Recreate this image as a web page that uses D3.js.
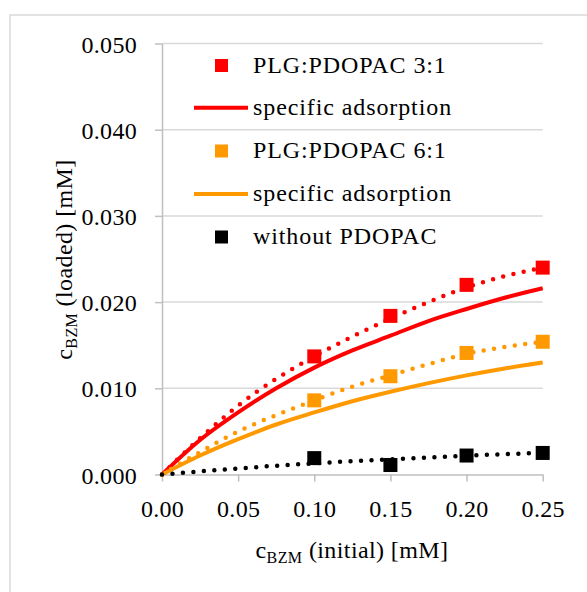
<!DOCTYPE html>
<html>
<head>
<meta charset="utf-8">
<script src="https://cdn.jsdelivr.net/npm/d3@7"></script>
<style>
  html, body { margin: 0; padding: 0; background: #fff; }
  svg { display: block; }
  svg text, svg tspan { font-family: 'Liberation Serif', 'Times New Roman', serif !important; fill: #000; }
</style>
</head>
<body>
<svg id="chart" width="587" height="592" font-family="Liberation Serif"></svg>
<script>
// ---- data ----
const xTickValues = [0.00, 0.05, 0.10, 0.15, 0.20, 0.25];
const yTickValues = [0.000, 0.010, 0.020, 0.030, 0.040, 0.050];

const xInitial = [0.10, 0.15, 0.20, 0.25];
const plg31 = [0.0137, 0.0184, 0.0220, 0.0240];
const plg61 = [0.0086, 0.0114, 0.0141, 0.0154];
const withoutPdopac = [0.0019, 0.0011, 0.0022, 0.0025];

const xCurve = [0, 0.025, 0.05, 0.075, 0.10, 0.125, 0.15, 0.175, 0.20, 0.225, 0.25];
const specific31 = [0, 0.0040, 0.0072, 0.0100, 0.0124, 0.0144, 0.0161, 0.0178, 0.0192, 0.0205, 0.0216];
const specific61 = [0, 0.0022, 0.0041, 0.0058, 0.0072, 0.0085, 0.0096, 0.0106, 0.0115, 0.0123, 0.0130];
const trend31 = [0, 0.0042, 0.0080, 0.0111, 0.0137, 0.0160, 0.0181, 0.0200, 0.0217, 0.0230, 0.0240];
const trend61 = [0, 0.0026, 0.0050, 0.0069, 0.0086, 0.0102, 0.0115, 0.0128, 0.0140, 0.0148, 0.0154];
const trendWithout = [0, 0.00036, 0.0007, 0.00102, 0.0013, 0.00155, 0.00177, 0.00198, 0.00218, 0.00236, 0.00252];

const legendLabels = ["PLG:PDOPAC 3:1", "specific adsorption", "PLG:PDOPAC 6:1", "specific adsorption", "without PDOPAC"];

// ---- styles ----
const FONT = "'Liberation Serif', 'Times New Roman', serif";
const RED = "#ff0000", ORANGE = "#ff9900", BLACK = "#000000";
const GRID = "#d9d9d9", AXIS = "#bfbfbf";

const svg = d3.select("#chart");

// outer chart border
svg.append("rect")
  .attr("x", 10).attr("y", 15)
  .attr("width", 600).attr("height", 600)
  .attr("fill", "none").attr("stroke", GRID).attr("stroke-width", 1.5);

const x = d3.scaleLinear().domain([0, 0.25]).range([162, 542.7]);
const y = d3.scaleLinear().domain([0, 0.05]).range([474.5, 43.5]);

// gridlines
svg.append("g")
  .selectAll("line")
  .data(yTickValues.filter(v => v > 0))
  .join("line")
  .attr("x1", x(0)).attr("x2", x(0.25))
  .attr("y1", d => y(d)).attr("y2", d => y(d))
  .attr("stroke", GRID).attr("stroke-width", 1.5);

// axes
const xAxis = svg.append("g")
  .attr("transform", `translate(0,${y(0)})`)
  .call(d3.axisBottom(x).tickValues(xTickValues).tickFormat(d3.format(".2f")).tickSize(7).tickSizeOuter(0));
const yAxis = svg.append("g")
  .attr("transform", `translate(${x(0)},0)`)
  .call(d3.axisLeft(y).tickValues(yTickValues).tickFormat(d3.format(".3f")).tickSize(7).tickSizeOuter(0));

[xAxis, yAxis].forEach(g => {
  g.attr("font-family", FONT).attr("font-size", 24);
  g.select(".domain").attr("stroke", AXIS).attr("stroke-width", 1.5);
  g.selectAll(".tick line").attr("stroke", AXIS).attr("stroke-width", 1.5);
  g.selectAll(".tick text")
    .style("font-family", FONT)
    .style("font-size", "24px")
    .style("letter-spacing", "0.3px")
    .attr("fill", "#000");
});
xAxis.selectAll(".tick text").attr("dy", null).attr("y", 42.5);
yAxis.selectAll(".tick text").attr("dy", null).attr("y", 8.5).attr("x", -25);

// lines
const line = d3.line().x(d => x(d[0])).y(d => y(d[1])).curve(d3.curveMonotoneX);
const toPts = vals => xCurve.map((xv, i) => [xv, vals[i]]);

const plot = svg.append("g");

[[specific31, RED], [specific61, ORANGE]].forEach(([vals, col]) => {
  plot.append("path")
    .attr("d", line(toPts(vals)))
    .attr("fill", "none").attr("stroke", col).attr("stroke-width", 4);
});

[[trend31, RED], [trend61, ORANGE], [trendWithout, BLACK]].forEach(([vals, col]) => {
  plot.append("path")
    .attr("d", line(toPts(vals)))
    .attr("fill", "none").attr("stroke", col).attr("stroke-width", 4.5)
    .attr("stroke-linecap", "round")
    .attr("stroke-dasharray", "0 10.5");
});

// markers
const M = 14;
[[plg31, RED], [plg61, ORANGE], [withoutPdopac, BLACK]].forEach(([vals, col]) => {
  plot.append("g")
    .selectAll("rect")
    .data(xInitial.map((xv, i) => [xv, vals[i]]))
    .join("rect")
    .attr("x", d => x(d[0]) - M / 2)
    .attr("y", d => y(d[1]) - M / 2)
    .attr("width", M).attr("height", M)
    .attr("fill", col);
});

// legend
const legendItems = [
  { label: legendLabels[0], type: "square", color: RED,    cy: 65.5,  base: 73 },
  { label: legendLabels[1], type: "line",   color: RED,    cy: 107.7, base: 115 },
  { label: legendLabels[2], type: "square", color: ORANGE, cy: 151,   base: 158.3 },
  { label: legendLabels[3], type: "line",   color: ORANGE, cy: 194,   base: 201 },
  { label: legendLabels[4], type: "square", color: BLACK,  cy: 237,   base: 244 }
];
const legend = svg.append("g");
legendItems.forEach(it => {
  if (it.type === "square") {
    legend.append("rect")
      .attr("x", 221.5 - 6.5).attr("y", it.cy - 6.5)
      .attr("width", 13).attr("height", 13)
      .attr("fill", it.color);
  } else {
    legend.append("line")
      .attr("x1", 194).attr("x2", 248)
      .attr("y1", it.cy).attr("y2", it.cy)
      .attr("stroke", it.color).attr("stroke-width", 4);
  }
  legend.append("text")
    .attr("x", 253).attr("y", it.base)
    .style("font-family", FONT)
    .style("font-size", "24px")
    .style("letter-spacing", "0.9px")
    .text(it.label);
});

// axis titles
const xt = svg.append("text")
  .attr("x", 352).attr("y", 558)
  .attr("text-anchor", "middle")
  .style("font-family", FONT)
  .style("font-size", "24px")
  .style("letter-spacing", "0.4px");
xt.append("tspan").text("c");
xt.append("tspan").style("font-size", "16px").attr("dy", 5).text("BZM");
xt.append("tspan").attr("dy", -5).text(" (initial) [mM]");

const yt = svg.append("text")
  .attr("transform", "translate(72,259.5) rotate(-90)")
  .attr("text-anchor", "middle")
  .style("font-family", FONT)
  .style("font-size", "24px")
  .style("letter-spacing", "0.4px");
yt.append("tspan").text("c");
yt.append("tspan").style("font-size", "16px").attr("dy", 5).text("BZM");
yt.append("tspan").attr("dy", -5).text(" (loaded) [mM]");
</script>
</body>
</html>
